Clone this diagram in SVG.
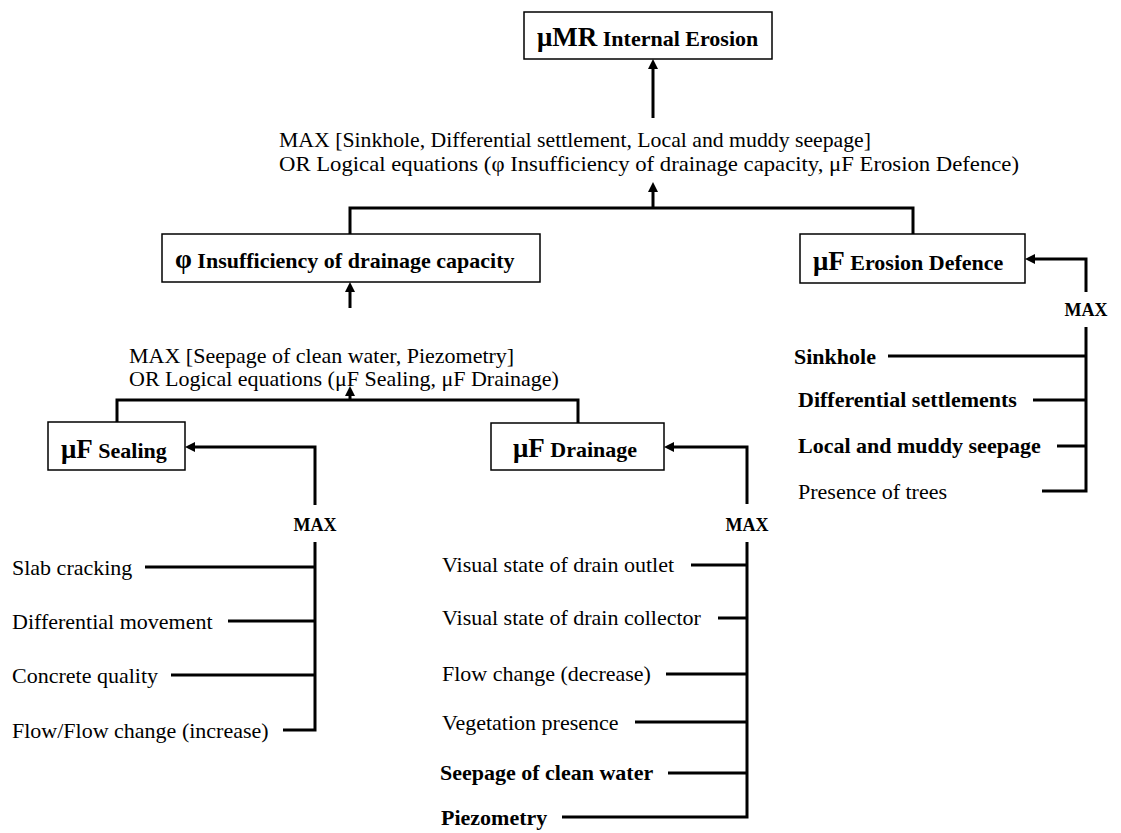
<svg xmlns="http://www.w3.org/2000/svg" width="1121" height="833" viewBox="0 0 1121 833">
<style>
text{font-family:"Liberation Serif","Times New Roman",serif;fill:#000}
.r{font-size:22px}
.b{font-size:22px;font-weight:bold}
.g{font-size:27px;font-weight:bold}
.m{font-size:18px;font-weight:bold;text-anchor:middle}
.box{fill:#fff;stroke:#000;stroke-width:1.5}
.c{fill:none;stroke:#000;stroke-width:3}
.a{fill:none;stroke:#000;stroke-width:3;marker-end:url(#ah)}
</style>
<defs>
<marker id="ah" viewBox="0 0 10 10" refX="0" refY="5" markerWidth="10" markerHeight="10" markerUnits="userSpaceOnUse" orient="auto">
<path d="M0,0 L10,5 L0,10 z" fill="#000"/>
</marker>
</defs>
<rect width="1121" height="833" fill="#fff"/>
<g id="connectors">
<path class="a" d="M653,118 V69"/>
<path class="a" d="M653,208 V192"/>
<path class="c" d="M350,234 V208 H913 V234"/>
<path class="a" d="M350,308 V292"/>
<path class="a" d="M350,400 V396"/>
<path class="c" d="M117,422 V400 H578 V423"/>
<path class="a" d="M1086,292 V259 H1035"/>
<path class="c" d="M1086,327 V491 H1042 M888,356 H1086 M1033,400 H1086 M1057,446 H1086"/>
<path class="a" d="M315,505 V447 H195"/>
<path class="c" d="M315,542 V730 H283 M145,567 H315 M228,621 H315 M171,675 H315"/>
<path class="a" d="M747,504 V447 H674"/>
<path class="c" d="M747,542 V817 H562 M691,565 H747 M718,618 H747 M666,674 H747 M635,722 H747 M668,773 H747"/>
</g>
<g id="n-internal-erosion">
<rect class="box" x="524" y="12" width="248" height="47"/>
<text x="537" y="46"><tspan class="g" font-size="28">μMR</tspan><tspan class="b"> Internal Erosion</tspan></text>
</g>
<g id="t-top-rule">
<text class="r" x="279" y="147" textLength="592" lengthAdjust="spacingAndGlyphs">MAX [Sinkhole, Differential settlement, Local and muddy seepage]</text>
<text class="r" x="279" y="171" textLength="740" lengthAdjust="spacingAndGlyphs">OR Logical equations (φ Insufficiency of drainage capacity, μF Erosion Defence)</text>
</g>
<g id="n-insufficiency">
<rect class="box" x="162" y="234" width="378" height="48"/>
<text x="175" y="268"><tspan class="g" font-size="26">φ</tspan><tspan class="b" font-size="22.6"> Insufficiency of drainage capacity</tspan></text>
</g>
<g id="n-erosion-defence">
<rect class="box" x="800" y="234" width="225" height="49"/>
<text x="813" y="270"><tspan class="g">μF</tspan><tspan class="b"> Erosion Defence</tspan></text>
</g>
<g id="t-mid-rule">
<text class="r" x="129" y="363">MAX [Seepage of clean water, Piezometry]</text>
<text class="r" x="129" y="386">OR Logical equations (μF Sealing, μF Drainage)</text>
</g>
<g id="n-sealing">
<rect class="box" x="48" y="422" width="137" height="48"/>
<text x="61" y="458"><tspan class="g">μF</tspan><tspan class="b"> Sealing</tspan></text>
</g>
<g id="n-drainage">
<rect class="box" x="491" y="423" width="173" height="47"/>
<text x="513" y="457"><tspan class="g">μF</tspan><tspan class="b"> Drainage</tspan></text>
</g>
<g id="max-labels">
<text class="m" x="1086" y="316">MAX</text>
<text class="m" x="315" y="531">MAX</text>
<text class="m" x="747" y="531">MAX</text>
</g>
<g id="leaves-erosion">
<text class="b" x="794" y="364">Sinkhole</text>
<text class="b" x="798" y="407">Differential settlements</text>
<text class="b" x="798" y="453">Local and muddy seepage</text>
<text class="r" x="798" y="499">Presence of trees</text>
</g>
<g id="leaves-sealing">
<text class="r" x="12" y="575">Slab cracking</text>
<text class="r" x="12" y="629">Differential movement</text>
<text class="r" x="12" y="683">Concrete quality</text>
<text class="r" x="12" y="738">Flow/Flow change (increase)</text>
</g>
<g id="leaves-drainage">
<text class="r" x="442" y="572">Visual state of drain outlet</text>
<text class="r" x="442" y="625">Visual state of drain collector</text>
<text class="r" x="442" y="681">Flow change (decrease)</text>
<text class="r" x="442" y="730">Vegetation presence</text>
<text class="b" x="440" y="780">Seepage of clean water</text>
<text class="b" x="441" y="825">Piezometry</text>
</g>
</svg>
